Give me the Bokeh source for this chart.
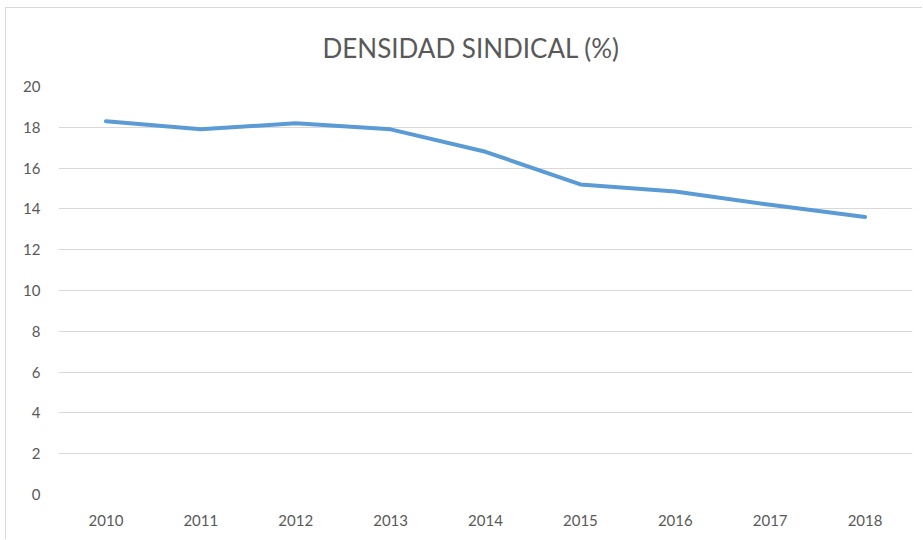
from bokeh.plotting import figure
from bokeh.models import Range1d, FactorRange, FixedTicker, Title
from bokeh.embed import file_html
from bokeh.resources import INLINE

years = ["2010", "2011", "2012", "2013", "2014", "2015", "2016", "2017", "2018"]
density = [18.3, 17.9, 18.2, 17.9, 16.8, 15.2, 14.85, 14.2, 13.6]
y_ticks = [0, 2, 4, 6, 8, 10, 12, 14, 16, 18, 20]
title_text = "DENSIDAD SINDICAL (%)"

p = figure(width=917, height=532, x_range=FactorRange(*years), y_range=Range1d(0, 20),
           output_backend="svg", toolbar_location=None,
           min_border_left=52, min_border_right=11, min_border_top=78, min_border_bottom=46)
p.title = Title(text=title_text, align="left", text_font="Lato", text_font_size="26px",
                text_font_style="normal", text_color="#595959", offset=264, standoff=42,
                vertical_align="top")
p.line(years, density, line_color="#5b9bd5", line_width=4, line_join="round", line_cap="round")

p.outline_line_color = None
p.xgrid.grid_line_color = None
p.ygrid.grid_line_color = "#d9d9d9"
p.ygrid.grid_line_width = 1
p.yaxis.ticker = FixedTicker(ticks=y_ticks)
for ax in (p.xaxis, p.yaxis):
    ax.axis_line_color = None
    ax.major_tick_line_color = None
    ax.minor_tick_line_color = None
    ax.major_label_text_font = "Lato"
    ax.major_label_text_font_size = "15px"
    ax.major_label_text_color = "#595959"
p.yaxis.major_label_standoff = 12
p.xaxis.major_label_standoff = 14
p.styles = {"margin-left": "5px", "margin-top": "7px",
            "border-left": "1px solid #d9d9d9", "border-top": "1px solid #d9d9d9"}

open("out.html", "w").write(file_html(p, INLINE))
